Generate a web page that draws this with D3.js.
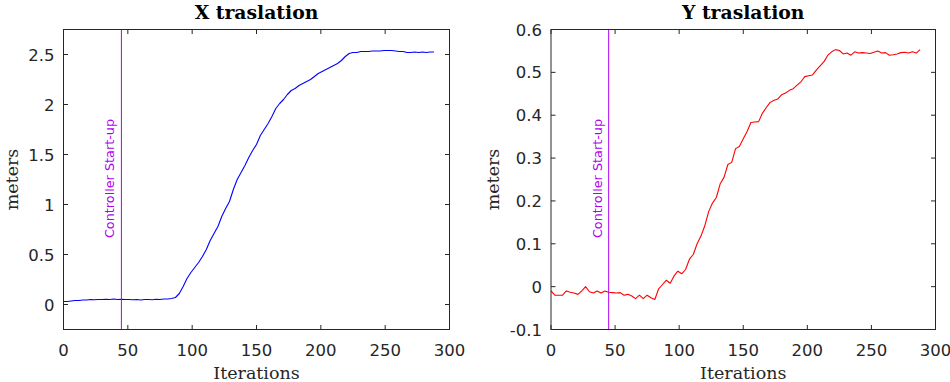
<!DOCTYPE html>
<html>
<head>
<meta charset="utf-8">
<script src="https://cdn.jsdelivr.net/npm/d3@7"></script>
<style>
  body { margin: 0; background: #fff; }
  svg { display: block; }
  .tick-label { font-family: "DejaVu Sans", sans-serif; font-size: 16.5px; fill: #262626; }
  .axis-label { font-family: "DejaVu Serif", serif; font-size: 17.5px; fill: #262626; }
  .title { font-family: "DejaVu Serif", serif; font-size: 18.8px; font-weight: bold; fill: #000; }
  .marker-label { font-family: "DejaVu Sans", sans-serif; font-size: 12.8px; fill: #B000F0; }
</style>
</head>
<body>
<svg width="950" height="382"></svg>
<script>
// sampled every 3 iterations
var iterations = d3.range(0, 289, 3);

var xTraslation = [
  0.03, 0.03, 0.035, 0.04, 0.04, 0.045, 0.045, 0.05, 0.048, 0.05,
  0.05, 0.052, 0.05, 0.055, 0.05, 0.052, 0.05, 0.05, 0.048, 0.05,
  0.045, 0.05, 0.05, 0.048, 0.052, 0.05, 0.055, 0.055, 0.06, 0.07,
  0.11, 0.18, 0.26, 0.32, 0.37, 0.42, 0.48, 0.55, 0.64, 0.71,
  0.78, 0.88, 0.96, 1.03, 1.15, 1.25, 1.32, 1.39, 1.47, 1.54,
  1.6, 1.69, 1.75, 1.81, 1.88, 1.96, 2.01, 2.05, 2.1, 2.14,
  2.16, 2.19, 2.21, 2.23, 2.25, 2.28, 2.31, 2.33, 2.35, 2.37,
  2.39, 2.41, 2.44, 2.48, 2.51, 2.52, 2.52, 2.53, 2.53, 2.53,
  2.535, 2.535, 2.535, 2.54, 2.54, 2.54, 2.535, 2.53, 2.53, 2.52,
  2.52, 2.525, 2.52, 2.525, 2.52, 2.525, 2.525
];

var yTraslation = [
  -0.01, -0.02, -0.02, -0.02, -0.01, -0.013, -0.015, -0.018, -0.01, 0.0,
  -0.012, -0.015, -0.01, -0.015, -0.01, -0.013, -0.014, -0.015, -0.014, -0.02,
  -0.018, -0.022, -0.028, -0.02, -0.028, -0.02, -0.026, -0.03, -0.005, 0.005,
  0.015, 0.008, 0.025, 0.036, 0.03, 0.04, 0.064, 0.075, 0.1, 0.118,
  0.142, 0.175, 0.195, 0.208, 0.24, 0.255, 0.285, 0.29, 0.322, 0.327,
  0.345, 0.362, 0.383, 0.384, 0.385, 0.405, 0.418, 0.43, 0.435, 0.438,
  0.448, 0.452, 0.458, 0.462, 0.47, 0.478, 0.49, 0.492, 0.494, 0.505,
  0.515, 0.525, 0.54, 0.548, 0.553, 0.551, 0.543, 0.545, 0.54, 0.548,
  0.545, 0.546, 0.545, 0.544, 0.547, 0.55, 0.545, 0.546, 0.54, 0.541,
  0.543, 0.546, 0.547, 0.545, 0.548, 0.545, 0.553
];

var xTicks = [0, 50, 100, 150, 200, 250, 300];
var xTicksLeftY = [0, 0.5, 1, 1.5, 2, 2.5];
var xTicksRightY = [-0.1, 0, 0.1, 0.2, 0.3, 0.4, 0.5, 0.6];
var startupIteration = 45;
var startupLabel = "Controller Start-up";

var svg = d3.select("svg");
var axisColor = "#262626";

var panels = [
  { title: "X traslation", values: xTraslation, color: "#0000FF",
    left: 63.5, right: 449.5, yDomain: [-0.25, 2.75], yTicks: xTicksLeftY, ylabelGap: 46 },
  { title: "Y traslation", values: yTraslation, color: "#FF0000",
    left: 551, right: 935.5, yDomain: [-0.1, 0.6], yTicks: xTicksRightY, ylabelGap: 52 }
];

var plotTop = 29.5, plotBottom = 329.5, tickLen = 4.5;

panels.forEach(drawPanel);

function drawPanel(p) {
  var x = d3.scaleLinear().domain([0, 300]).range([p.left, p.right]);
  var y = d3.scaleLinear().domain(p.yDomain).range([plotBottom, plotTop]);
  var g = svg.append("g");

  // data line
  var line = d3.line()
    .x(function (d, i) { return x(iterations[i]); })
    .y(function (d) { return y(d); });
  g.append("path")
    .datum(p.values)
    .attr("d", line)
    .attr("fill", "none")
    .attr("stroke", p.color)
    .attr("stroke-width", 1.1)
    .attr("stroke-linejoin", "round");

  // start-up marker
  var mx = x(startupIteration);
  g.append("line")
    .attr("x1", mx).attr("x2", mx)
    .attr("y1", plotTop).attr("y2", plotBottom)
    .attr("stroke", "#B000F0")
    .attr("stroke-width", 1);
  g.append("text")
    .attr("class", "marker-label")
    .attr("text-anchor", "middle")
    .attr("transform", "translate(" + [mx - 7, (plotTop + plotBottom) / 2 - 1] + ") rotate(-90)")
    .text(startupLabel);

  // box
  g.append("rect")
    .attr("x", p.left).attr("y", plotTop)
    .attr("width", p.right - p.left).attr("height", plotBottom - plotTop)
    .attr("fill", "none")
    .attr("stroke", axisColor)
    .attr("stroke-width", 1);

  // x ticks (inside, top and bottom)
  xTicks.forEach(function (t) {
    var tx = x(t);
    g.append("line").attr("x1", tx).attr("x2", tx).attr("y1", plotBottom).attr("y2", plotBottom - tickLen).attr("stroke", axisColor);
    g.append("line").attr("x1", tx).attr("x2", tx).attr("y1", plotTop).attr("y2", plotTop + tickLen).attr("stroke", axisColor);
    g.append("text")
      .attr("class", "tick-label")
      .attr("text-anchor", "middle")
      .attr("x", tx).attr("y", plotBottom + 26.5)
      .text(String(t));
  });

  // y ticks (inside, left and right)
  p.yTicks.forEach(function (t) {
    var ty = y(t);
    g.append("line").attr("x1", p.left).attr("x2", p.left + tickLen).attr("y1", ty).attr("y2", ty).attr("stroke", axisColor);
    g.append("line").attr("x1", p.right).attr("x2", p.right - tickLen).attr("y1", ty).attr("y2", ty).attr("stroke", axisColor);
    g.append("text")
      .attr("class", "tick-label")
      .attr("text-anchor", "end")
      .attr("x", p.left - 9).attr("y", ty + 6)
      .text(String(t));
  });

  // title and labels
  var cx = (p.left + p.right) / 2;
  g.append("text")
    .attr("class", "title")
    .attr("text-anchor", "middle")
    .attr("x", cx).attr("y", 18.5)
    .text(p.title);
  g.append("text")
    .attr("class", "axis-label")
    .attr("text-anchor", "middle")
    .attr("x", cx).attr("y", 379)
    .text("Iterations");
  g.append("text")
    .attr("class", "axis-label")
    .attr("text-anchor", "middle")
    .attr("transform", "translate(" + [p.left - p.ylabelGap, (plotTop + plotBottom) / 2] + ") rotate(-90)")
    .text("meters");
}
</script>
</body>
</html>
